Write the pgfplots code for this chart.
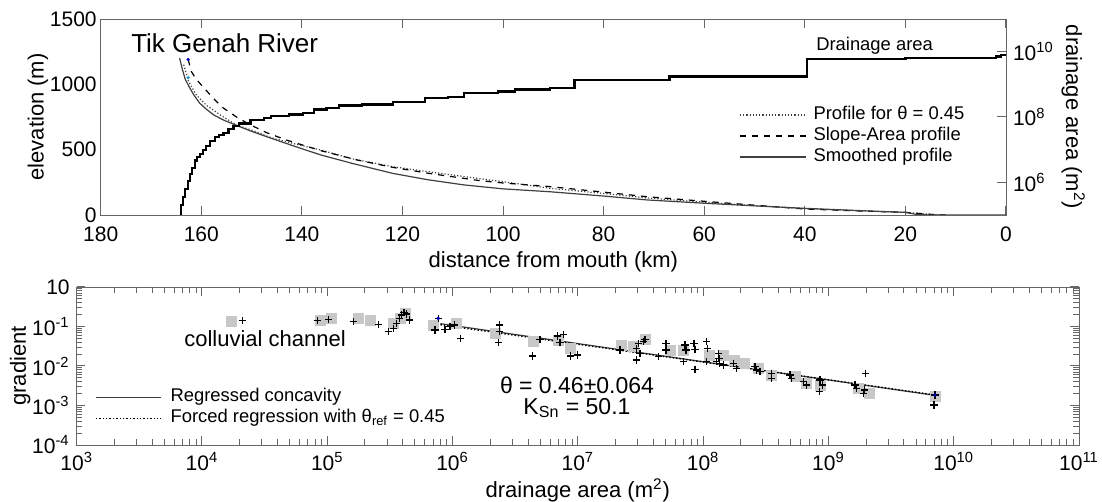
\documentclass[border=0pt]{standalone}
\usepackage{fontspec}
\setmainfont{Liberation Sans}
\usepackage{pgfplots}
\pgfplotsset{compat=1.18}

\pgfplotstableread{
km A
164.3 1.0e5
164.0 2.0e5
163.7 3.55e5
163.2 6.3e5
162.7 1.12e6
162.2 1.82e6
161.8 2.82e6
161.3 4.68e6
160.8 6.03e6
160.3 7.41e6
159.6 1.0e7
159.0 1.32e7
158.3 1.86e7
157.3 2.40e7
156.5 2.82e7
155.6 3.31e7
154.6 4.17e7
153.6 5.25e7
152.5 6.31e7
150.2 7.94e7
147.5 9.33e7
146.1 1.07e8
142.5 1.20e8
139.7 1.32e8
137.6 1.70e8
135.1 1.91e8
132.6 2.24e8
128.0 2.40e8
121.9 2.82e8
115.5 3.80e8
111.0 4.17e8
107.7 5.50e8
101.0 6.03e8
97.7 6.92e8
90.6 7.59e8
85.8 1.38e9
66.9 1.74e9
39.5 6.03e9
20.0 6.46e9
2.0 7.08e9
1.0 7.94e9
0.0 7.94e9
}\drainage

\pgfplotstableread{
km z
164.3 1200
163.8 1120
163.2 1040
162.4 980
161.5 920
160.3 855
159.0 810
157.5 765
155.5 725
153.2 689
150.0 640
146.1 587
141.0 520
136.2 459
130.0 395
122.0 319
115.0 270
107.7 230
100.0 200
90.7 178
80.0 145
71.3 115
60.0 90
50.0 70
40.0 51
30.0 35
20.0 20
17.9 5
15.0 0
0.0 0
}\smoothed

\pgfplotstableread{
km z
162.6 1190
162.0 1100
161.2 1050
160.3 1008
158.0 910
156.0 829
153.0 750
150.2 689
147.0 630
143.1 574
136.0 490
129.0 421
122.0 365
114.8 319
105.0 265
100.0 245
90.6 217
80.0 175
71.4 140
60.0 105
50.0 75
40.0 46
30.0 32
20.0 20
15.0 5
12.0 0
}\slopearea

\pgfplotstableread{
km z
163.5 1150
162.5 1020
161.0 920
159.0 840
156.0 760
153.0 689
150.0 650
146.0 590
141.0 540
136.2 497
130.0 430
122.0 370
114.8 331
105.0 280
100.0 255
90.6 204
80.0 165
71.3 130
60.0 98
50.0 72
40.0 48
30.0 33
20.0 20
15.0 5
12.0 0
}\thetaprof

\pgfplotstableread{
A S
1.73e4 0.132
8.75e4 0.146
1.08e5 0.161
1.77e5 0.161
2.19e5 0.140
3.37e5 0.120
4.17e5 0.216
3.80e5 0.161
7.0e5 0.109
1.08e6 0.120
2.18e6 0.0676
4.41e6 0.0412
6.98e6 0.0455
8.65e6 0.0281
2.23e7 0.0340
2.77e7 0.0308
3.44e7 0.0474
5.43e7 0.0254
6.93e7 0.0254
1.13e8 0.0190
1.45e8 0.0190
1.79e8 0.0142
2.15e8 0.0117
2.75e8 0.00875
3.52e8 0.00592
5.41e8 0.00536
6.70e8 0.00365
8.55e8 0.00330
1.73e9 0.00272
2.14e9 0.00203
7.08e9 0.00167
}\squares

\pgfplotstableread{
A S
2.10e4 0.140
8.32e4 0.140
1.02e5 0.152
1.61e5 0.132
2.55e5 0.113
3.07e5 0.0741
3.37e5 0.0899
3.58e5 0.120
3.76e5 0.161
3.93e5 0.195
4.09e5 0.224
4.31e5 0.207
4.51e5 0.146
7.24e5 0.0815
7.69e5 0.161
8.69e5 0.0849
9.53e5 0.0991
1.04e6 0.109
1.15e6 0.0501
2.36e6 0.109
2.36e6 0.0741
2.32e6 0.0389
4.99e6 0.0474
4.36e6 0.0179
6.85e6 0.0575
7.66e6 0.0634
7.19e6 0.0389
8.75e6 0.0179
9.89e6 0.0190
2.17e7 0.0254
2.94e7 0.0281
3.03e7 0.0376
3.33e7 0.0412
3.13e7 0.0210
2.94e7 0.0142
3.44e7 0.0474
4.39e7 0.0172
5.05e7 0.0376
5.05e7 0.0254
7.16e7 0.0340
7.29e7 0.0254
8.45e7 0.0376
8.61e7 0.0264
1.07e8 0.0412
1.08e8 0.0281
6.93e7 0.0129
8.61e7 0.00824
1.07e8 0.0129
1.32e8 0.0210
1.34e8 0.0157
1.36e8 0.0117
1.28e8 0.0129
1.45e8 0.0106
1.74e8 0.0117
1.85e8 0.00875
2.59e8 0.00959
2.67e8 0.00793
2.84e8 0.00718
3.52e8 0.00653
3.52e8 0.00489
4.93e8 0.00592
5.08e8 0.00489
6.30e8 0.00401
6.70e8 0.00330
8.55e8 0.00443
8.97e8 0.00330
8.45e8 0.00224
1.63e9 0.00330
1.68e9 0.00272
1.95e9 0.00247
1.90e9 0.00203
1.99e9 0.00653
7.08e9 0.00185
6.95e9 0.00103
}\pluses

\begin{document}
\begin{tikzpicture}
\useasboundingbox (0,0) rectangle (551pt,251pt);
\pgfplotsset{
  every axis/.append style={
    scale only axis,
    axis line style={black!60},
    tick style={black!60, line width=0.5pt},
    tick label style={font=\fontsize{10.5}{12}\selectfont},
    label style={font=\fontsize{11}{13}\selectfont},
    /pgf/number format/assume math mode=true,
    /pgf/number format/1000 sep={},
  },
}
% ---------------- top panel: elevation ----------------
\begin{axis}[
  at={(50.35pt,143.5pt)}, anchor=south west,
  width=452.65pt, height=98pt,
  x dir=reverse, xmin=0, xmax=180, ymin=0, ymax=1500,
  xtick={0,20,...,180}, ytick={0,500,1000,1500},
  ytick style={draw=none},
  yticklabel style={xshift=1.5pt},
  xticklabel style={yshift=-2.5pt},
  xlabel={distance from mouth (km)}, ylabel={elevation (m)},
  xlabel style={yshift=2pt},
  ylabel shift=-6pt,
  legend style={at={(0.705,0.403)}, anchor=west, draw=none, fill=none,
    inner sep=0pt, row sep=0pt, font=\fontsize{9.2}{10}\selectfont,
    nodes={inner sep=0.5pt, text height=7pt, text depth=2.5pt}},
  legend cell align=left,
  legend image code/.code={\draw[#1] (0pt,0pt) -- (33pt,0pt);},
]
\addplot[black!75, densely dotted, line width=0.6pt] table[x=km,y=z] {\thetaprof};
\addlegendentry{\hspace{3pt}Profile for θ = 0.45}
\addplot[black, dashed, line width=0.6pt] table[x=km,y=z] {\slopearea};
\addlegendentry{\hspace{3pt}Slope-Area profile}
\addplot[black!75, line width=0.6pt] table[x=km,y=z] {\smoothed};
\addlegendentry{\hspace{3pt}Smoothed profile}
\addplot[only marks, mark=*, mark size=0.6pt, blue!70!black, forget plot] coordinates {(162.6,1190)};
\addplot[only marks, mark=*, mark size=0.6pt, cyan!80!black, forget plot] coordinates {(162.6,1051)};
\node[anchor=west, font=\fontsize{13}{15}\selectfont, inner sep=0pt] at (axis cs:174,1316) {Tik Genah River};
\end{axis}
% ---------------- top panel: drainage area ----------------
\begin{axis}[
  at={(50.35pt,143.5pt)}, anchor=south west,
  width=452.65pt, height=98pt,
  x dir=reverse, xmin=0, xmax=180,
  ymode=log, ymin=1e5, ymax=1e11,
  axis x line=none, axis y line*=right,
  ytick={1e6,1e8,1e10},
  yticklabels={10\textsuperscript{6},10\textsuperscript{8},10\textsuperscript{10}},
  yminorticks=false,
  ylabel={drainage area (m\textsuperscript{2})},
  ylabel style={rotate=180},
  ylabel shift=-3pt,
]
\addplot[black, line width=1.1pt, const plot] table[x=km,y=A] {\drainage};
\node[anchor=west, font=\fontsize{9.2}{10}\selectfont, inner sep=0pt] at (axis cs:37.8,1.5e10) {Drainage area};
\end{axis}
% ---------------- bottom panel ----------------
\begin{axis}[
  at={(38.35pt,28.5pt)}, anchor=south west,
  width=501.15pt, height=79pt,
  xmode=log, ymode=log,
  xmin=1e3, xmax=1e11, ymin=1e-4, ymax=1,
  xtick={1e3,1e4,1e5,1e6,1e7,1e8,1e9,1e10,1e11},
  xticklabels={10\textsuperscript{3},10\textsuperscript{4},10\textsuperscript{5},10\textsuperscript{6},10\textsuperscript{7},10\textsuperscript{8},10\textsuperscript{9},10\textsuperscript{10},10\textsuperscript{11}},
  minor xtick={2e3,3e3,4e3,5e3,6e3,7e3,8e3,9e3,2e4,3e4,4e4,5e4,6e4,7e4,8e4,9e4,2e5,3e5,4e5,5e5,6e5,7e5,8e5,9e5,2e6,3e6,4e6,5e6,6e6,7e6,8e6,9e6,2e7,3e7,4e7,5e7,6e7,7e7,8e7,9e7,2e8,3e8,4e8,5e8,6e8,7e8,8e8,9e8,2e9,3e9,4e9,5e9,6e9,7e9,8e9,9e9,2e10,3e10,4e10,5e10,6e10,7e10,8e10,9e10},
  ytick={1e-4,1e-3,1e-2,1e-1,1},
  yticklabels={10\textsuperscript{-4},10\textsuperscript{-3},10\textsuperscript{-2},10\textsuperscript{-1},10},
  minor ytick={2e-4,3e-4,4e-4,5e-4,6e-4,7e-4,8e-4,9e-4,2e-3,3e-3,4e-3,5e-3,6e-3,7e-3,8e-3,9e-3,2e-2,3e-2,4e-2,5e-2,6e-2,7e-2,8e-2,9e-2,2e-1,3e-1,4e-1,5e-1,6e-1,7e-1,8e-1,9e-1},
  xlabel={drainage area (m\textsuperscript{2})}, ylabel={gradient},
  xlabel style={yshift=2.5pt},
  ylabel shift=-6pt,
  legend style={at={(0.018,0.235)}, anchor=west, draw=none, fill=none,
    inner sep=0pt, row sep=0pt, font=\fontsize{9.2}{10}\selectfont,
    nodes={inner sep=0.5pt, text height=7pt, text depth=2.5pt}},
  legend cell align=left,
  legend image code/.code={\draw[#1] (0pt,0pt) -- (32.5pt,0pt);},
]
\addplot[only marks, mark=square*, mark size=2.5pt, color=black!22, forget plot] table[x=A,y=S] {\squares};
\addplot[only marks, mark=+, mark size=1.8pt, line width=0.6pt, black, forget plot] table[x=A,y=S] {\pluses};
\addplot[only marks, mark=*, mark size=0.7pt, blue!70!black, forget plot] coordinates {(7.69e5,0.161) (7.08e9,0.00185)};
\addplot[black!75, line width=0.6pt] coordinates {(8e5,0.118) (7.2e9,0.00179)};
\addlegendentry{\hspace{4pt}Regressed concavity}
\addplot[black, densely dotted, line width=0.7pt] coordinates {(8e5,0.111) (7.2e9,0.00184)};
\addlegendentry{\hspace{4pt}Forced regression with θ\textsubscript{ref} = 0.45}
\node[anchor=west, font=\fontsize{11}{13}\selectfont, inner sep=0pt] at (axis cs:7.18e3,0.0483) {colluvial channel};
\node[font=\fontsize{11.5}{13}\selectfont, inner sep=0pt] at (axis cs:9.84e6,0.0033) {θ = 0.46±0.064};
\node[font=\fontsize{11.5}{13}\selectfont, inner sep=0pt] at (axis cs:9.84e6,0.00086) {K\textsubscript{Sn} = 50.1};
\end{axis}
\end{tikzpicture}
\end{document}
